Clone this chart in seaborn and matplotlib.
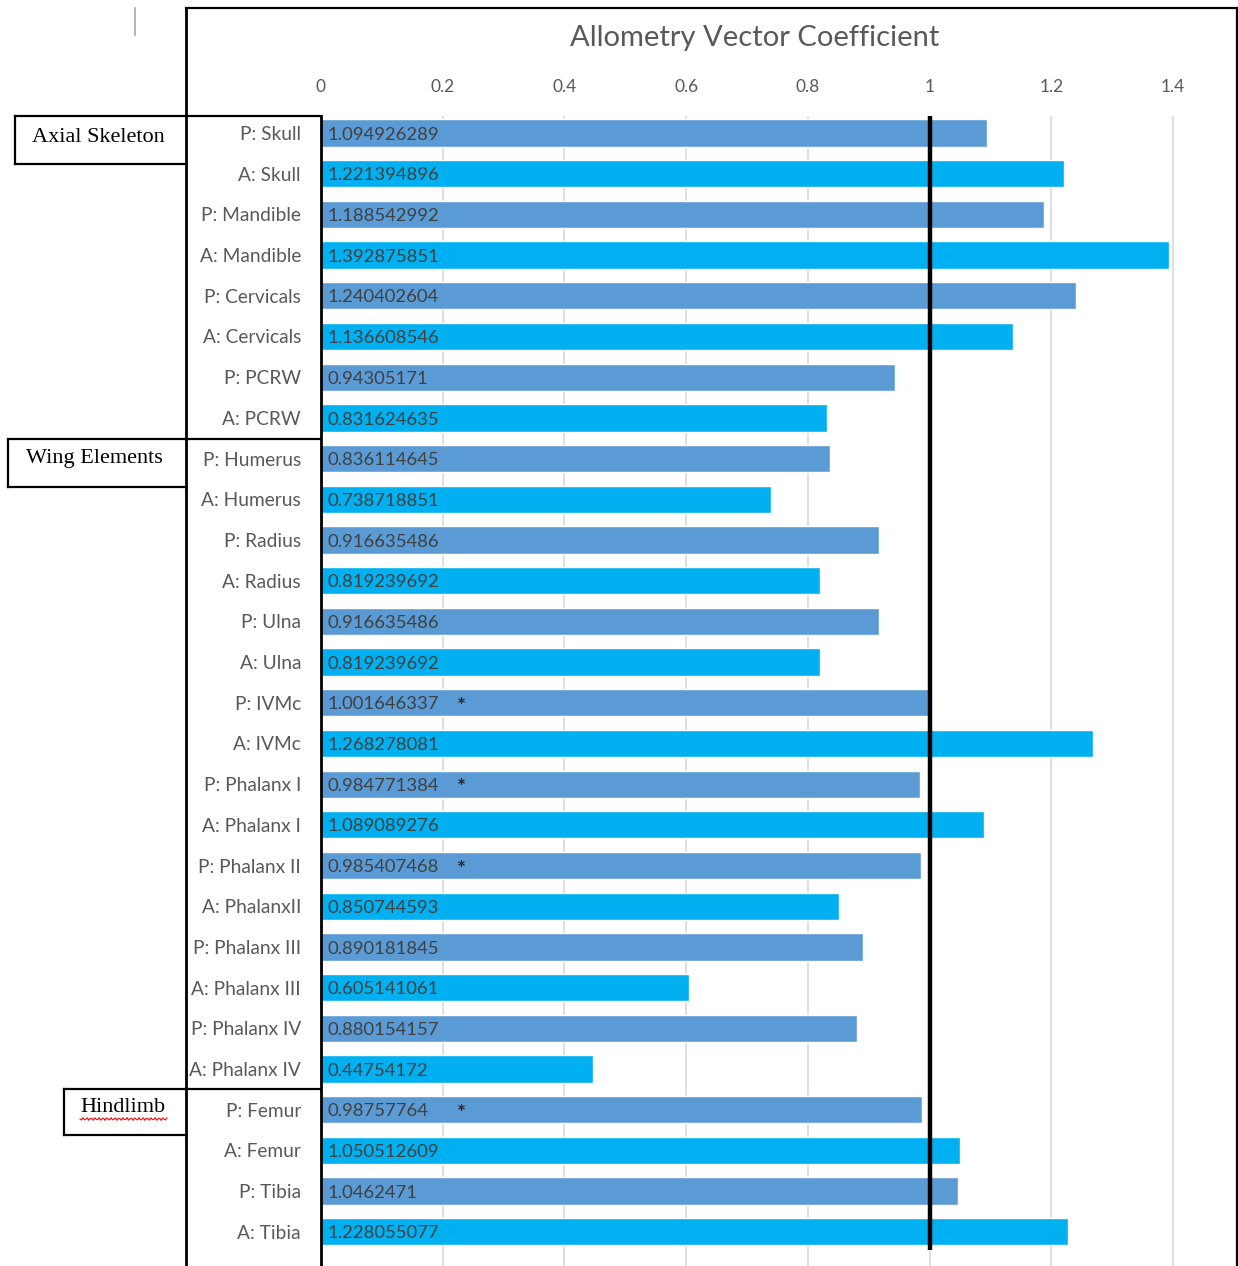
import numpy as np
import pandas as pd
import matplotlib
matplotlib.use("Agg")
import matplotlib.pyplot as plt
from matplotlib.lines import Line2D
import seaborn as sns

# ---- data -------------------------------------------------------------
elements = [
    "P: Skull", "A: Skull", "P: Mandible", "A: Mandible",
    "P: Cervicals", "A: Cervicals", "P: PCRW", "A: PCRW",
    "P: Humerus", "A: Humerus", "P: Radius", "A: Radius",
    "P: Ulna", "A: Ulna", "P: IVMc", "A: IVMc",
    "P: Phalanx I", "A: Phalanx I", "P: Phalanx II", "A: PhalanxII",
    "P: Phalanx III", "A: Phalanx III", "P: Phalanx IV", "A: Phalanx IV",
    "P: Femur", "A: Femur", "P: Tibia", "A: Tibia",
]
coefficients = [
    1.094926289, 1.221394896, 1.188542992, 1.392875851,
    1.240402604, 1.136608546, 0.94305171, 0.831624635,
    0.836114645, 0.738718851, 0.916635486, 0.819239692,
    0.916635486, 0.819239692, 1.001646337, 1.268278081,
    0.984771384, 1.089089276, 0.985407468, 0.850744593,
    0.890181845, 0.605141061, 0.880154157, 0.44754172,
    0.98757764, 1.050512609, 1.0462471, 1.228055077,
]
starred = ["P: IVMc", "P: Phalanx I", "P: Phalanx II", "P: Femur"]
x_ticks = [0, 0.2, 0.4, 0.6, 0.8, 1, 1.2, 1.4]
x_tick_labels = ["0", "0.2", "0.4", "0.6", "0.8", "1", "1.2", "1.4"]
region_labels = ["Axial Skeleton", "Wing Elements", "Hindlimb"]
title = "Allometry Vector Coefficient"

df = pd.DataFrame({
    "element": elements,
    "coef": coefficients,
    "side": [e.split(":")[0] for e in elements],
})

# ---- figure -----------------------------------------------------------
sns.set_style("white")
plt.rcParams["font.family"] = ["Lato", "DejaVu Sans"]

W, H = 1238, 1266
fig = plt.figure(figsize=(W / 100, H / 100), dpi=100)


def fx(px):
    return px / W


def fy(py):
    return 1 - py / H


ax_left, ax_right, ax_top = 321, 1203.5, 116
ax = fig.add_axes([fx(ax_left), 0, (ax_right - ax_left) / W, (H - ax_top) / H])

sns.barplot(data=df, y="element", x="coef", hue="side",
            palette={"P": "#5B9BD5", "A": "#00B0F0"},
            dodge=False, width=0.67, saturation=1, legend=False, ax=ax)

ax.set_xlim(0, 1.45)
ax.set_ylim(27.84, -0.418)
ax.set_xlabel("")
ax.set_ylabel("")

ax.xaxis.tick_top()
ax.set_xticks(x_ticks)
ax.set_xticklabels(x_tick_labels)
ax.tick_params(axis="x", length=0, pad=15, labelsize=12.5, labelcolor="#595959")
ax.tick_params(axis="y", length=0, pad=14.4, labelsize=13.8, labelcolor="#595959")
ax.grid(axis="x", color="#D9D9D9", lw=1.2)
ax.grid(axis="y", visible=False)
ax.set_axisbelow(True)

for side in ["top", "right", "bottom"]:
    ax.spines[side].set_visible(False)
ax.spines["left"].set_color("black")
ax.spines["left"].set_linewidth(2)

# reference line at isometry
ax.vlines(1, -0.418, 27.44, color="black", lw=3.2, zorder=5)

# value labels inside the bars
for i, (name, v) in enumerate(zip(elements, coefficients)):
    ax.text(0.0115, i + 0.04, str(v), ha="left", va="center", fontsize=13.3,
            color="#404040", zorder=6)
    if name in starred:
        ax.text(0.23, i + 0.1, "*", ha="center", va="center", fontsize=15,
                color="#262626", fontweight="bold", zorder=6)

# title
fig.text(fx(755), fy(38), title, ha="center", va="center",
         fontsize=21, color="#595959")


def line(x0, y0, x1, y1, color="black", lw=1.6):
    fig.add_artist(Line2D([fx(x0), fx(x1)], [fy(y0), fy(y1)],
                          color=color, lw=lw, solid_capstyle="projecting"))


# outer frame
line(186, 8, 1237, 8)
line(1237, 8, 1237, H)
line(186, 8, 186, H, lw=2)
line(135, 8, 135, 35, color="#A6A6A6", lw=1.2)

# category column separators
line(186, 116, 321, 116)
line(186, 439, 321, 439)
line(186, 1089, 321, 1089)

# region boxes
boxes = [(15, 116, 164), (8, 439, 487), (64, 1089, 1135)]
for (x0, y0, y1) in boxes:
    line(x0, y0, 186, y0)
    line(x0, y1, 186, y1)
    line(x0, y0, x0, y1)

text_pos = [(98, 137), (94, 459), (123, 1107)]
for label, (tx, ty) in zip(region_labels, text_pos):
    fig.text(fx(tx), fy(ty), label, ha="center", va="center",
             fontsize=16, color="black", family="Liberation Serif")

# spell-check squiggle under "Hindlimb"
sx = np.linspace(80, 167, 60)
sy = 1119 + 1.3 * np.sin((sx - 80) * 2 * np.pi / 4)
fig.add_artist(Line2D(fx(sx), fy(sy), color="#E02020", lw=0.9))

fig.savefig("out.png", dpi=100)
